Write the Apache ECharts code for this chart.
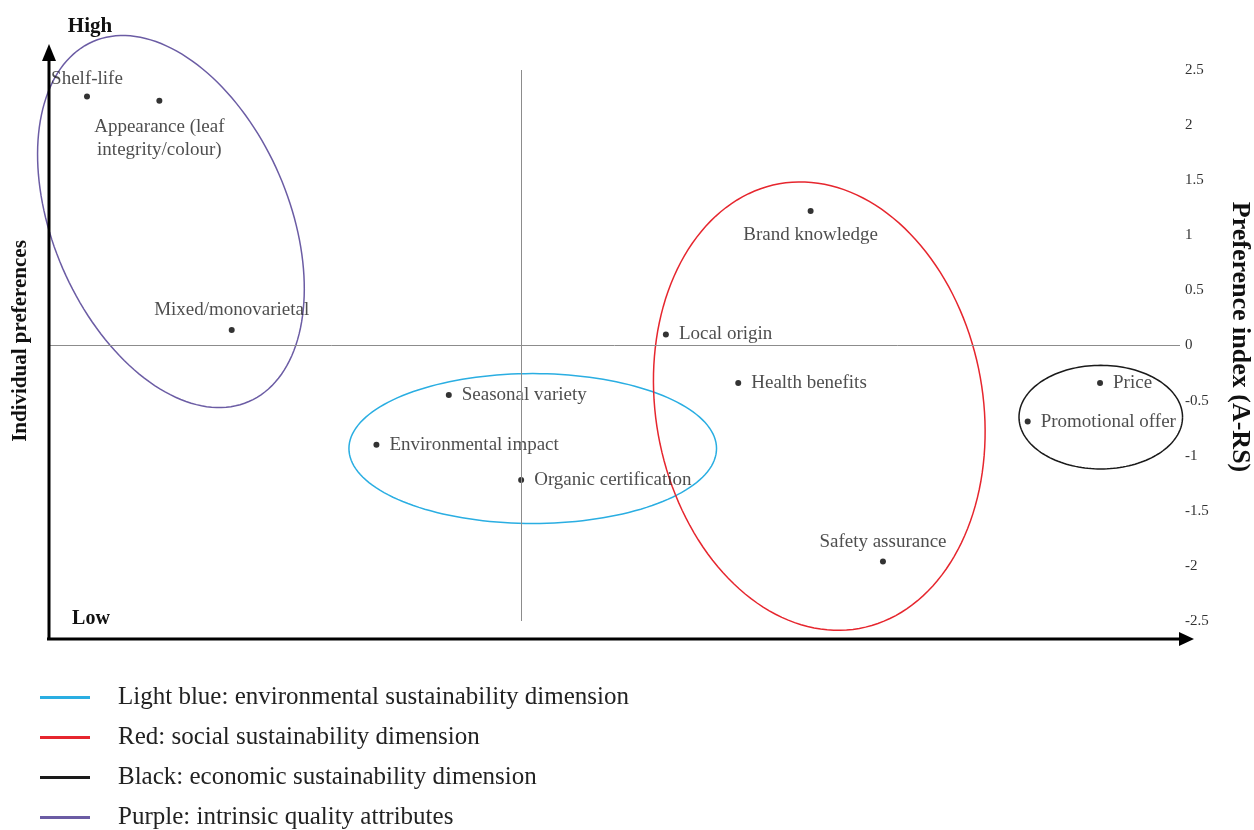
<!DOCTYPE html>
<html>
<head>
<meta charset="utf-8">
<script src="https://cdn.jsdelivr.net/npm/echarts@6/dist/echarts.min.js"></script>
<style>
html,body{margin:0;padding:0;background:#fff;}
#chart{width:1254px;height:830px;}
</style>
</head>
<body>
<div id="chart"></div>
<script>
// ---- data ----
const pointNames = ['Shelf-life', 'Appearance (leaf\nintegrity/colour)', 'Mixed/monovarietal',
  'Environmental impact', 'Seasonal variety', 'Organic certification',
  'Local origin', 'Health benefits', 'Brand knowledge', 'Safety assurance',
  'Promotional offer', 'Price'];
const pointX = [1, 2, 3, 5, 6, 7, 9, 10, 11, 12, 14, 15];
const pointY = [2.26, 2.22, 0.14, -0.90, -0.45, -1.22, 0.10, -0.34, 1.22, -1.96, -0.69, -0.34];

const groupNames = ['Light blue: environmental sustainability dimension',
  'Red: social sustainability dimension',
  'Black: economic sustainability dimension',
  'Purple: intrinsic quality attributes'];
const groupCx = [7.16, 11.12, 15.01, 2.16];
const groupCy = [-0.935, -0.55, -0.65, 1.125];
const groupHalfW = [2.54, 2.26, 1.13, 1.63];
const groupHalfH = [0.68, 2.05, 0.47, 1.78];
const groupTilt = [0, 10.2, 0, 23.4];

// ---- styles ----
const FONT = '"Liberation Serif", "Times New Roman", serif';
const groupColors = ['#2aaee2', '#e6262e', '#1a1a1a', '#6b5ca4'];
const labelCfg = {
  'Shelf-life': {position: 'top', distance: 3},
  'Appearance (leaf\nintegrity/colour)': {position: 'bottom', distance: 12},
  'Mixed/monovarietal': {position: 'top', distance: 6},
  'Brand knowledge': {position: 'bottom', distance: 9},
  'Safety assurance': {position: 'top', distance: 5}
};

const scatterData = pointNames.map((n, i) => {
  const c = labelCfg[n] || {position: 'right', distance: 10};
  return {name: n, value: [pointX[i], pointY[i]], label: {position: c.position, distance: c.distance}};
});

function renderEllipse(params, api) {
  const c = api.coord([api.value(0), api.value(1)]);
  const s = api.size([api.value(2), api.value(3)]);
  const th = api.value(4) * Math.PI / 180;
  const pts = [];
  const N = 160;
  for (let i = 0; i <= N; i++) {
    const t = i / N * 2 * Math.PI;
    const lx = s[0] * Math.cos(t), ly = s[1] * Math.sin(t);
    pts.push([c[0] + lx * Math.cos(th) + ly * Math.sin(th), c[1] - lx * Math.sin(th) + ly * Math.cos(th)]);
  }
  return {type: 'polyline', shape: {points: pts}, style: {stroke: api.visual('color'), fill: null, lineWidth: 1.5}};
}

const ellipseSeries = groupNames.map((n, i) => ({
  name: n,
  type: 'custom',
  clip: false,
  silent: true,
  z: 1,
  itemStyle: {color: groupColors[i]},
  renderItem: renderEllipse,
  data: [[groupCx[i], groupCy[i], groupHalfW[i], groupHalfH[i], groupTilt[i]]]
}));

const chart = echarts.init(document.getElementById('chart'), null, {renderer: 'canvas'});
chart.setOption({
  animation: false,
  backgroundColor: '#fff',
  grid: {left: 49, right: 74, top: 70, bottom: 209, containLabel: false},
  xAxis: {type: 'value', min: 0.475, max: 16.105, show: false},
  yAxis: {
    type: 'value', position: 'right', min: -2.5, max: 2.5, interval: 0.5,
    axisLine: {show: false}, axisTick: {show: false}, splitLine: {show: false},
    axisLabel: {margin: 5, fontFamily: FONT, fontSize: 15, color: '#333'}
  },
  legend: {
    data: groupNames, orient: 'vertical', left: 40, top: 685, height: 170, padding: 0,
    icon: 'rect', itemWidth: 50, itemHeight: 3, itemGap: 15, selectedMode: false,
    textStyle: {fontFamily: FONT, fontSize: 25, color: '#222', lineHeight: 22, padding: [0, 0, 0, 23]}
  },
  graphic: [
    {type: 'line', shape: {x1: 49, y1: 640, x2: 49, y2: 58}, style: {stroke: '#000', lineWidth: 3}, z: 10},
    {type: 'polygon', shape: {points: [[49, 44], [42, 61], [56, 61]]}, style: {fill: '#000'}, z: 10},
    {type: 'line', shape: {x1: 47, y1: 639, x2: 1182, y2: 639}, style: {stroke: '#000', lineWidth: 3}, z: 10},
    {type: 'polygon', shape: {points: [[1194, 639], [1179, 632], [1179, 646]]}, style: {fill: '#000'}, z: 10},
    {type: 'text', x: 90, y: 27, style: {text: 'High', font: 'bold 21px ' + FONT, fill: '#111', align: 'center', verticalAlign: 'middle'}},
    {type: 'text', x: 91, y: 619, style: {text: 'Low', font: 'bold 20px ' + FONT, fill: '#111', align: 'center', verticalAlign: 'middle'}},
    {type: 'text', x: 21, y: 341, rotation: Math.PI / 2, style: {text: 'Individual preferences', font: 'bold 21px ' + FONT, fill: '#111', align: 'center', verticalAlign: 'middle'}},
    {type: 'text', x: 1240, y: 337, rotation: -Math.PI / 2, style: {text: 'Preference index (A-RS)', font: 'bold 26px ' + FONT, fill: '#111', align: 'center', verticalAlign: 'middle'}}
  ],
  series: ellipseSeries.concat([{
    name: 'points',
    type: 'scatter',
    symbol: 'circle',
    symbolSize: 6,
    z: 3,
    itemStyle: {color: '#000'},
    label: {show: true, formatter: '{b}', fontFamily: FONT, fontSize: 19, lineHeight: 23, color: '#222'},
    data: scatterData,
    markLine: {
      silent: true, symbol: 'none', label: {show: false},
      lineStyle: {color: '#8c8c8c', width: 1, type: 'solid'},
      data: [{yAxis: 0}, {xAxis: 7}]
    }
  }])
});
</script>
</body>
</html>
